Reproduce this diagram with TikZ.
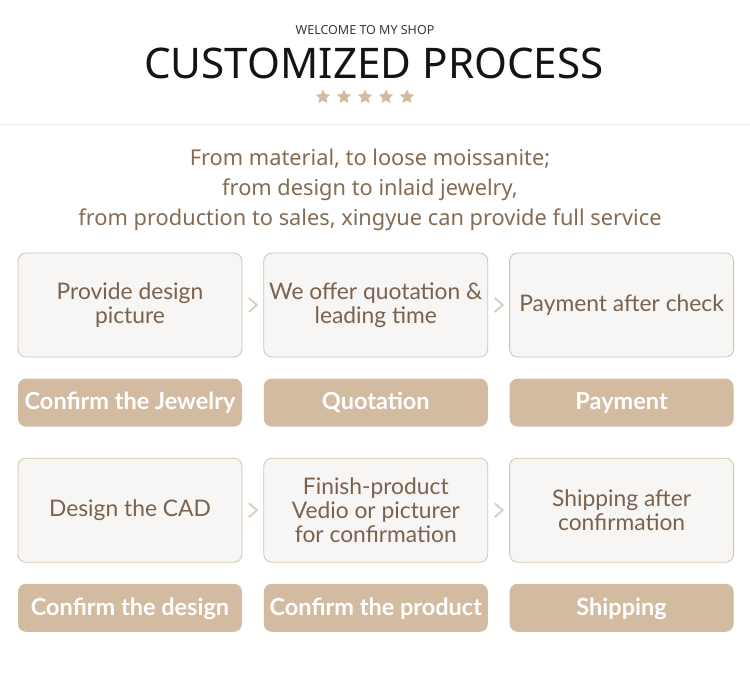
\documentclass[tikz,border=0pt]{standalone}
\usepackage{fontspec}
\usepackage{xcolor}
\usetikzlibrary{positioning, calc, shapes.geometric}

\newfontfamily\headfont{Noto Sans}
\newfontfamily\stepfont{Lato}

\definecolor{tan}{HTML}{D3BBA2}
\definecolor{tanline}{HTML}{D5C2AC}
\definecolor{boxfill}{HTML}{F7F6F5}
\definecolor{brown}{HTML}{856B53}
\definecolor{boxtext}{HTML}{7A624C}
\definecolor{chev}{HTML}{DACCBE}

\begin{document}
\begin{tikzpicture}[
    x=1pt, y=-1pt,
    node distance=21pt and 21pt, % vertical and horizontal spacing
    stepbox/.style={draw=tanline, fill=boxfill, rounded corners=8pt, line width=0.8pt,
        minimum width=224pt, minimum height=104pt, inner sep=0pt, align=center,
        text=boxtext, font=\stepfont\fontsize{22.8}{24}\selectfont},
    tagbox/.style={fill=tan, rounded corners=8pt, minimum width=224pt, minimum height=48pt,
        inner sep=0pt, text=white, text depth=3pt, font=\stepfont\bfseries\fontsize{23.5}{24}\selectfont},
    intro/.style={text=brown, font=\headfont\fontsize{21.8}{30}\selectfont, align=center},
    chevron/.style={draw=chev, line width=1.8pt}
]
    \useasboundingbox (0,0) rectangle (750,674);
    \fill[white] (0,0) rectangle (750,674);

    % Header
    \node (welcome) at (365,30) {\headfont\fontsize{12.5}{13}\selectfont\color{black!78}WELCOME TO MY SHOP};
    \node (title) at (374,63) {\headfont\fontsize{42.2}{44}\selectfont\color{black!92}CUSTOMIZED PROCESS};
    \foreach \i in {0,...,4}
        \node[star, star points=5, star point ratio=2.1, fill=tan, inner sep=0pt, minimum size=15pt]
            (star\i) at (323+21*\i,97) {};
    \draw[black!8, line width=1pt] (0,125) -- (750,125);

    \node[intro] (intro) at (370,190) {From material, to loose moissanite;\\
        from design to inlaid jewelry,\\
        from production to sales, xingyue can provide full service};

    % Place the nodes
    \node[stepbox] (design) at (130,305) {Provide design\\picture};
    \node[stepbox] (quote) [right=of design] {We offer quotation \&\\leading time};
    \node[stepbox] (pay) [right=of quote] {Payment after check};
    \node[tagbox] (jewelry) [below=of design] {Confirm the Jewelry};
    \node[tagbox] (quotation) [below=of quote] {Quotation};
    \node[tagbox] (payment) [below=of pay] {Payment};

    \node[stepbox] (cad) [below=31pt of jewelry] {Design the CAD};
    \node[stepbox] (finish) [right=of cad] {Finish-product\\Vedio or picturer\\for confirmation};
    \node[stepbox] (ship) [right=of finish] {Shipping after\\confirmation};
    \node[tagbox] (confdesign) [below=of cad] {Confirm the design};
    \node[tagbox] (confproduct) [below=of finish] {Confirm the product};
    \node[tagbox] (shipping) [below=of ship] {Shipping};

    % Draw the chevrons
    \foreach \a/\b in {design/quote, quote/pay, cad/finish, finish/ship}
        \draw[chevron] ($(\a.east)!0.5!(\b.west)+(-4,-7)$) -- ++(8,7) -- ++(-8,7);
\end{tikzpicture}
\end{document}
